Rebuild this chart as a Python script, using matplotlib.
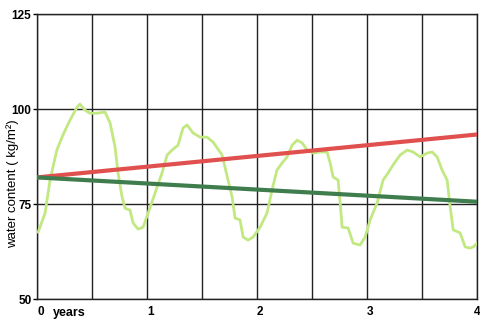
import matplotlib
matplotlib.use("Agg")
import matplotlib.pyplot as plt

# yearly trend lines (start/end)
trend_years = [0, 4]
red_trend = [82.0, 93.3]
green_trend = [82.0, 75.6]

# seasonal water content curve
years = [0.01, 0.073, 0.118, 0.18, 0.236, 0.30, 0.364, 0.39, 0.436, 0.48,
         0.545, 0.618, 0.664, 0.709, 0.736, 0.773, 0.80, 0.845, 0.873, 0.918,
         0.964, 1.009, 1.073, 1.136, 1.182, 1.227, 1.282, 1.327, 1.364, 1.418,
         1.482, 1.545, 1.60, 1.682, 1.736, 1.773, 1.80, 1.845, 1.873, 1.918,
         1.964, 2.027, 2.09, 2.136, 2.18, 2.227, 2.273, 2.318, 2.364, 2.409,
         2.455, 2.509, 2.573, 2.636, 2.664, 2.691, 2.736, 2.755, 2.773, 2.827,
         2.873, 2.936, 2.982, 3.027, 3.091, 3.145, 3.191, 3.236, 3.30, 3.364,
         3.418, 3.482, 3.545, 3.591, 3.636, 3.682, 3.727, 3.755, 3.782, 3.845,
         3.891, 3.936, 3.964, 4.0]
water = [67.6, 72.6, 81.3, 89.2, 93.2, 97.1, 100.5, 101.3, 99.7, 98.9,
         98.9, 99.2, 96.3, 90.0, 83.2, 76.8, 73.9, 73.4, 70.0, 68.4,
         68.9, 72.6, 77.9, 83.2, 87.9, 89.2, 90.5, 95.0, 95.8, 93.7,
         92.6, 92.6, 91.3, 87.9, 81.3, 76.8, 71.3, 70.8, 66.3, 65.5,
         66.3, 68.9, 72.6, 78.7, 83.9, 85.8, 87.4, 90.5, 91.8, 91.1,
         89.2, 88.4, 88.7, 88.7, 85.8, 82.1, 81.3, 75.3, 68.9, 68.7,
         64.7, 64.2, 66.3, 70.8, 75.3, 81.3, 83.2, 85.3, 87.9, 89.2,
         88.7, 87.4, 88.4, 88.7, 87.4, 83.9, 81.3, 74.2, 68.2, 67.4,
         63.7, 63.4, 63.7, 64.7]

x_ticks = [0, 1, 2, 3, 4]
y_ticks = [50, 75, 100, 125]

plt.rcParams['font.family'] = ['Liberation Sans', 'DejaVu Sans']

fig = plt.figure(figsize=(4.81, 3.22), dpi=100)
ax = fig.add_axes([0.077, 0.0714, 0.915, 0.885])

ax.plot(years, water, color='#c2e882', lw=2.0, zorder=3)
ax.plot(trend_years, red_trend, color='#e0504f', lw=3.0, zorder=4)
ax.plot(trend_years, green_trend, color='#3f7d4e', lw=3.0, zorder=4)

ax.set_xlim(0, 4)
ax.set_ylim(50, 125)
ax.set_xticks(x_ticks)
ax.set_xticks([0.5, 1.5, 2.5, 3.5], minor=True)
ax.set_yticks(y_ticks)
ax.set_xticklabels([str(t) for t in x_ticks], fontweight='bold', fontsize=8.5)
ax.set_yticklabels([str(t) for t in y_ticks], fontweight='bold', fontsize=8.5)
ax.tick_params(axis='x', which='both', length=0, pad=5)
ax.tick_params(axis='y', length=3, width=1, pad=1)
xlbls = ax.get_xticklabels()
for lbl in xlbls[:-1]:
    lbl.set_horizontalalignment('left')
xlbls[-1].set_horizontalalignment('center')

ax.grid(True, which='both', axis='x', color='#222222', lw=1.0)
ax.grid(True, which='major', axis='y', color='#222222', lw=1.0)
for s in ax.spines.values():
    s.set_color('#222222')
    s.set_linewidth(1.0)

ax.set_ylabel('water content ( kg/m²)', fontsize=9.5)
ax.yaxis.set_label_coords(-0.04, 0.405)
fig.text(0.145, 0.01, 'years', fontsize=9, fontweight='bold', ha='center', va='bottom')

fig.savefig('out.png', dpi=100)
